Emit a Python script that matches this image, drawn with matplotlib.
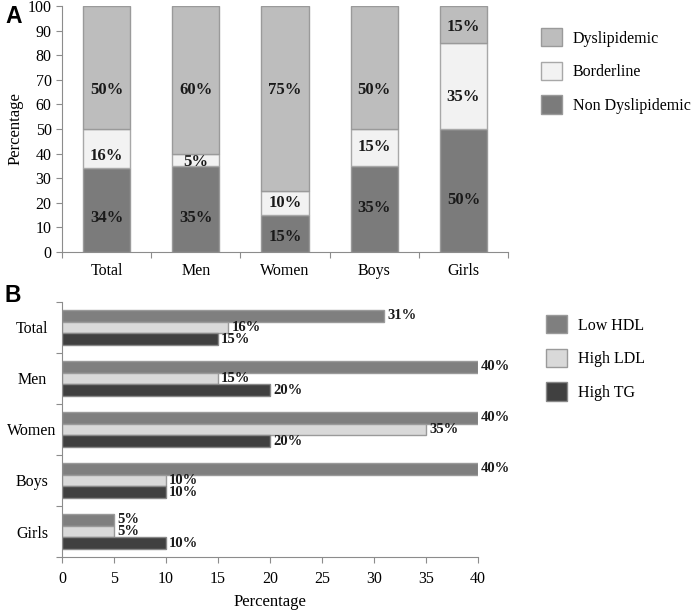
import numpy as np
import matplotlib.pyplot as plt
from matplotlib.patches import Patch

# panel A data
groups = ["Total", "Men", "Women", "Boys", "Girls"]
non_dys = [34, 35, 15, 35, 50]
borderline = [16, 5, 10, 15, 35]
dyslip = [50, 60, 75, 50, 15]
# where the percentage texts sit (percent units)
non_lab_y = [14, 14, 6, 18, 21]
bor_lab_y = [39, 36.5, 20, 42.5, 63]
dys_lab_y = [66, 66, 66, 66, 91.5]

# panel B data
low_hdl = [31, 40, 40, 40, 5]
high_ldl = [16, 15, 35, 10, 5]
high_tg = [15, 20, 20, 10, 10]

plt.rcParams['font.family'] = ['Liberation Serif', 'DejaVu Serif']

fig = plt.figure(figsize=(6.97, 6.10), dpi=100)
axA = fig.add_axes([62/697, 1-252/610, 446/697, 246/610])
axB = fig.add_axes([62/697, 1-557/610, 416/697, 255/610])

spine_c = "#8c8c8c"
edge_c = "#9a9a9a"

# ---- panel A ----
x = np.arange(len(groups))
w = 0.53
c_non, c_bor, c_dys = "#7b7b7b", "#f2f2f2", "#bdbdbd"
axA.bar(x, non_dys, w, color=c_non, edgecolor=edge_c, lw=1, zorder=1)
axA.bar(x, borderline, w, bottom=non_dys, color=c_bor, edgecolor="#a8a8a8", lw=1, zorder=1.2)
bot = np.array(non_dys) + np.array(borderline)
axA.bar(x, dyslip, w, bottom=bot, color=c_dys, edgecolor=edge_c, lw=1, zorder=1.4)
for i in range(len(groups)):
    axA.text(x[i], non_lab_y[i], f"{non_dys[i]}%", ha="center", va="center",
             fontsize=12, fontweight="bold", color="#1a1a1a", zorder=1.1)
    axA.text(x[i], bor_lab_y[i], f"{borderline[i]}%", ha="center", va="center",
             fontsize=12, fontweight="bold", color="#1a1a1a", zorder=1.3)
    axA.text(x[i], dys_lab_y[i], f"{dyslip[i]}%", ha="center", va="center",
             fontsize=12, fontweight="bold", color="#1a1a1a", zorder=1.5)

axA.set_xlim(-0.5, 4.5)
axA.set_ylim(0, 100)
axA.set_yticks(np.arange(0, 101, 10))
axA.set_xticks(np.arange(-0.5, 5), labels=[])
axA.set_xticks(x, labels=groups, minor=True)
axA.tick_params(axis="x", which="minor", length=0, pad=8, labelsize=11.5)
axA.tick_params(axis="both", which="major", length=4, color=spine_c, labelsize=11.5)
axA.set_ylabel("Percentage", fontsize=12, labelpad=3)
for s in ["top", "right"]:
    axA.spines[s].set_visible(False)
for s in ["left", "bottom"]:
    axA.spines[s].set_color(spine_c)

legA = [Patch(facecolor=c_dys, edgecolor=edge_c, label="Dyslipidemic"),
        Patch(facecolor=c_bor, edgecolor="#a8a8a8", label="Borderline"),
        Patch(facecolor=c_non, edgecolor=edge_c, label="Non Dyslipidemic")]
fig.legend(handles=legA, loc="upper left", bbox_to_anchor=(541/697, 1-28/610),
           frameon=False, fontsize=11.5, handlelength=1.3, handleheight=1.4,
           labelspacing=0.95, handletextpad=0.7, borderpad=0, borderaxespad=0)

# ---- panel B ----
y = np.arange(len(groups))
h = 0.23
c_hdl, c_ldl, c_tg = "#7f7f7f", "#d9d9d9", "#404040"
axB.barh(y - h, low_hdl, h, color=c_hdl, edgecolor=edge_c, lw=1, zorder=1)
axB.barh(y, high_ldl, h, color=c_ldl, edgecolor=edge_c, lw=1, zorder=1.2)
axB.barh(y + h, high_tg, h, color=c_tg, edgecolor="#888888", lw=1, zorder=1.4)
for i in range(len(groups)):
    axB.text(low_hdl[i] + 0.3, y[i] - h, f"{low_hdl[i]}%", ha="left", va="center",
             fontsize=10.5, fontweight="bold", color="#1a1a1a", zorder=1.1)
    axB.text(high_ldl[i] + 0.3, y[i], f"{high_ldl[i]}%", ha="left", va="center",
             fontsize=10.5, fontweight="bold", color="#1a1a1a", zorder=1.3)
    axB.text(high_tg[i] + 0.3, y[i] + h, f"{high_tg[i]}%", ha="left", va="center",
             fontsize=10.5, fontweight="bold", color="#1a1a1a", zorder=1.5)

axB.set_xlim(0, 40)
axB.set_ylim(4.5, -0.5)
axB.set_xticks(np.arange(0, 41, 5))
axB.set_yticks(np.arange(-0.5, 5), labels=[])
axB.set_yticks(y, labels=groups, minor=True)
axB.tick_params(axis="y", which="minor", length=0, pad=21.5, labelsize=11.5)
for lab in axB.get_yticklabels(minor=True):
    lab.set_horizontalalignment("center")
axB.tick_params(axis="both", which="major", length=4, color=spine_c, labelsize=11.5)
axB.tick_params(axis="x", which="major", pad=6)
axB.set_xlabel("Percentage", fontsize=12, labelpad=5)
for s in ["top", "right"]:
    axB.spines[s].set_visible(False)
for s in ["left", "bottom"]:
    axB.spines[s].set_color(spine_c)

legB = [Patch(facecolor=c_hdl, edgecolor=edge_c, label="Low HDL"),
        Patch(facecolor=c_ldl, edgecolor=edge_c, label="High LDL"),
        Patch(facecolor=c_tg, edgecolor="#888888", label="High TG")]
fig.legend(handles=legB, loc="upper left", bbox_to_anchor=(546/697, 1-315/610),
           frameon=False, fontsize=11.5, handlelength=1.3, handleheight=1.4,
           labelspacing=0.95, handletextpad=0.7, borderpad=0, borderaxespad=0)

fig.text(5/697, 1-5/610, "A", fontsize=16.5, fontweight="bold", family="Liberation Sans",
         ha="left", va="top")
fig.text(5/697, 1-284/610, "B", fontsize=16.5, fontweight="bold", family="Liberation Sans",
         ha="left", va="top")

fig.savefig("out.png", dpi=100)
